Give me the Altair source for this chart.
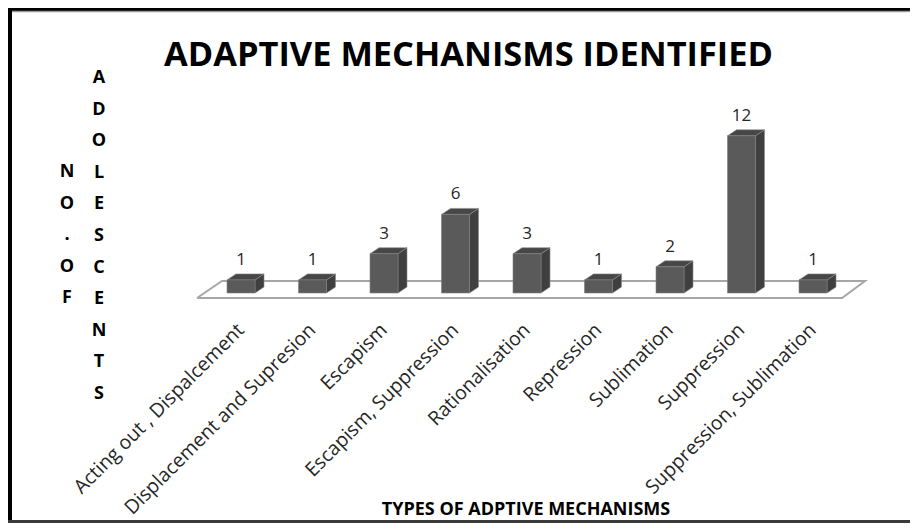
import altair as alt
import pandas as pd

# ---- data ----
categories = [
    "Acting out , Dispalcement",
    "Displacement and  Supresion",
    "Escapism",
    "Escapism, Suppression",
    "Rationalisation",
    "Repression",
    "Sublimation",
    "Suppression",
    "Suppression, Sublimation",
]
counts = [1, 1, 3, 6, 3, 1, 2, 12, 1]

title_text = "ADAPTIVE MECHANISMS IDENTIFIED"
x_title = "TYPES OF ADPTIVE MECHANISMS"
y_title_col1 = "NO.OF"
y_title_col2 = "ADOLESCENTS"

# ---- layout / geometry (pixels) ----
W, H = 902, 515
PX_CAT, X0 = 71.5, 233.0      # pixels per category, pixel of first category
PX_UNIT, Y0 = 13.1, 285.0     # pixels per count, pixel of zero line

xdom = [-X0 / PX_CAT, (W - X0) / PX_CAT]
ydom = [-(H - Y0) / PX_UNIT, Y0 / PX_UNIT]

HW = 14 / PX_CAT          # half bar width (category units)
DX = 9 / PX_CAT           # depth offset x
DY = 6 / PX_UNIT          # depth offset y

FONT = "Open Sans"

xs = alt.Scale(domain=xdom, nice=False, zero=False)
ys = alt.Scale(domain=ydom, nice=False, zero=False)

idx = list(range(len(categories)))

front = pd.DataFrame({
    "cat": categories,
    "x": [i - HW for i in idx],
    "x2": [i + HW for i in idx],
    "y": [0] * len(idx),
    "y2": counts,
})

side_rows, top_rows = [], []
for i, c, v in zip(idx, categories, counts):
    side_rows.append({"cat": c, "x": i + HW, "y": 0, "y2": v})
    side_rows.append({"cat": c, "x": i + HW + DX, "y": DY, "y2": v + DY})
    top_rows.append({"cat": c, "y": v, "x": i - HW, "x2": i + HW})
    top_rows.append({"cat": c, "y": v + DY, "x": i - HW + DX, "x2": i + HW + DX})
side = pd.DataFrame(side_rows)
top = pd.DataFrame(top_rows)

labels = pd.DataFrame({
    "cat": categories,
    "x": idx,
    "y": [v + DY for v in counts],
    "n": [str(v) for v in counts],
})

# floor of the 3D plot (front-left, back-left, back-right, front-right)
FL_X, FR_X = -0.615, 8.406
BL_X, BR_X = -0.266, 8.727
F_Y, B_Y = -0.382, 0.916
floor_line = pd.DataFrame({
    "x": [FL_X, BL_X, BR_X, FR_X, FL_X],
    "y": [F_Y, B_Y, B_Y, F_Y, F_Y],
    "o": [0, 1, 2, 3, 4],
})

ticklab = pd.DataFrame({
    "cat": categories,
    "x": idx,
    "y": [-2.6] * len(idx),
})

floor = alt.Chart(floor_line).mark_line(color="#a6a6a6", strokeWidth=2).encode(
    x=alt.X("x:Q", scale=xs, axis=None),
    y=alt.Y("y:Q", scale=ys, axis=None),
    order="o:Q",
)

side_m = alt.Chart(side).mark_area(color="#3f3f3f", stroke="#8c8c8c", strokeWidth=0.6).encode(
    x=alt.X("x:Q", scale=xs, axis=None),
    y=alt.Y("y:Q", scale=ys, axis=None),
    y2="y2:Q",
    detail="cat:N",
)

top_m = alt.Chart(top).mark_area(orient="horizontal", color="#474747", stroke="#8c8c8c", strokeWidth=0.6).encode(
    y=alt.Y("y:Q", scale=ys, axis=None),
    x=alt.X("x:Q", scale=xs, axis=None),
    x2="x2:Q",
    detail="cat:N",
)

front_m = alt.Chart(front).mark_rect(color="#5a5a5a", stroke="#7f7f7f", strokeWidth=0.6).encode(
    x=alt.X("x:Q", scale=xs, axis=None),
    x2="x2:Q",
    y=alt.Y("y:Q", scale=ys, axis=None),
    y2="y2:Q",
)

val_text = alt.Chart(labels).mark_text(
    font=FONT, fontSize=17, color="#262626", baseline="alphabetic", dy=-9
).encode(
    x=alt.X("x:Q", scale=xs, axis=None),
    y=alt.Y("y:Q", scale=ys, axis=None),
    text="n:N",
)

tick_text = alt.Chart(ticklab).mark_text(
    font=FONT, fontSize=19.5, color="#262626", angle=315, align="right", baseline="middle"
).encode(
    x=alt.X("x:Q", scale=xs, axis=None),
    y=alt.Y("y:Q", scale=ys, axis=None),
    text="cat:N",
)

title_m = alt.Chart(pd.DataFrame({"t": [title_text]})).mark_text(
    font=FONT, fontSize=34.4, fontWeight="bold", color="#000000", baseline="alphabetic"
).encode(x=alt.value(460.5), y=alt.value(58), text="t:N")

xtitle_m = alt.Chart(pd.DataFrame({"t": [x_title]})).mark_text(
    font=FONT, fontSize=18, fontWeight="bold", color="#000000", baseline="alphabetic"
).encode(x=alt.value(518), y=alt.value(507), text="t:N")

col1 = alt.Chart(pd.DataFrame({"t": ["\n".join(y_title_col1)]})).mark_text(
    font=FONT, fontSize=18, fontWeight="bold", color="#000000",
    baseline="middle", lineBreak="\n", lineHeight=31.6
).encode(x=alt.value(59), y=alt.value(164), text="t:N")

col2 = alt.Chart(pd.DataFrame({"t": ["\n".join(y_title_col2)]})).mark_text(
    font=FONT, fontSize=18, fontWeight="bold", color="#000000",
    baseline="middle", lineBreak="\n", lineHeight=31.6
).encode(x=alt.value(91), y=alt.value(70), text="t:N")

frame_left = alt.Chart(pd.DataFrame({"a": [0]})).mark_rule(color="#000000", strokeWidth=4).encode(
    x=alt.value(2), y=alt.value(0), y2=alt.value(H)
)
frame_top = alt.Chart(pd.DataFrame({"a": [0]})).mark_rule(color="#000000", strokeWidth=3).encode(
    y=alt.value(1.5), x=alt.value(0), x2=alt.value(W)
)
frame_top_shadow = alt.Chart(pd.DataFrame({"a": [0]})).mark_rule(color="#9a9a9a", strokeWidth=1.5).encode(
    y=alt.value(3.6), x=alt.value(4), x2=alt.value(W)
)
frame_bottom = alt.Chart(pd.DataFrame({"a": [0]})).mark_rule(color="#3a3a3a", strokeWidth=3).encode(
    y=alt.value(H - 1.5), x=alt.value(0), x2=alt.value(W)
)
# white cover for the right edge (the reference has no frame on the right)
frame_right = alt.Chart(pd.DataFrame({"a": [0]})).mark_rule(color="#ffffff", strokeWidth=4).encode(
    x=alt.value(W - 1), y=alt.value(4.4), y2=alt.value(H - 3)
)

chart = alt.layer(
    floor, side_m, top_m, front_m, val_text, tick_text,
    title_m, xtitle_m, col1, col2,
    frame_left, frame_top, frame_top_shadow, frame_bottom, frame_right,
).properties(
    width=W, height=H, padding=0, autosize=alt.AutoSizeParams(type="none"),
    background="#ffffff",
).configure_view(strokeWidth=0, stroke="transparent")

chart.save("out.html", embed_options={"renderer": "svg", "actions": False})
